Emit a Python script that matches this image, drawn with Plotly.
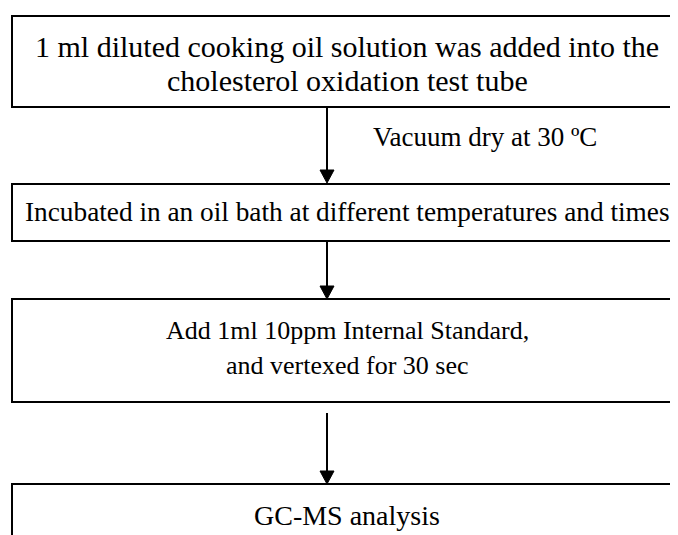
import plotly.graph_objects as go

# Flowchart content
steps = [
    "1 ml diluted cooking oil solution was added into the<br>cholesterol oxidation test tube",
    "Incubated in an oil bath at different temperatures and times",
    "Add 1ml 10ppm Internal Standard,<br>and vertexed for 30 sec",
    "GC-MS analysis",
]
arrow_notes = ["Vacuum dry at 30 ºC", "", ""]

# layout geometry (page pixels, y downward)
W, H = 678, 535
OFF = 8  # page body margin
box_left, box_right = 12, 677
box_tops = [16, 184, 299, 484]
box_bottoms = [107, 241, 402, 580]
line_y = [[46, 80], [212], [330, 365], [515]]
font_sizes = [30, 27.3, 26, 28]
text_center_x = 347
arrow_x = 327
arrow_starts = [107, 241, 413]
arrow_ends = [183, 299, 484]
note_pos = (485, 137)

fig = go.Figure()
shapes = []
annotations = []
FAMILY = "Liberation Serif, Times New Roman, serif"

for i, txt in enumerate(steps):
    shapes.append(dict(type="rect", xref="x", yref="y",
                       x0=box_left, x1=box_right, y0=box_tops[i], y1=box_bottoms[i],
                       line=dict(color="black", width=2), fillcolor="rgba(0,0,0,0)"))
    for ln, yy in zip(txt.split("<br>"), line_y[i]):
        annotations.append(dict(x=text_center_x, y=yy, xref="x", yref="y", text=ln,
                                showarrow=False,
                                font=dict(family=FAMILY, size=font_sizes[i], color="black"),
                                xanchor="center", yanchor="middle"))

hw, hh = 7, 13
for i in range(len(arrow_starts)):
    y0, y1 = arrow_starts[i], arrow_ends[i]
    shapes.append(dict(type="line", xref="x", yref="y", x0=arrow_x, x1=arrow_x,
                       y0=y0, y1=y1 - hh, line=dict(color="black", width=2)))
    shapes.append(dict(type="path", xref="x", yref="y",
                       path=f"M {arrow_x-hw},{y1-hh} L {arrow_x+hw},{y1-hh} L {arrow_x},{y1} Z",
                       fillcolor="black", line=dict(color="black", width=1)))
    if arrow_notes[i]:
        annotations.append(dict(x=note_pos[0], y=note_pos[1], xref="x", yref="y",
                                text=arrow_notes[i], showarrow=False,
                                font=dict(family=FAMILY, size=27, color="black"),
                                xanchor="center", yanchor="middle"))

fig.update_layout(
    width=W - OFF, height=H - OFF, margin=dict(l=0, r=0, t=0, b=0),
    paper_bgcolor="white", plot_bgcolor="white",
    xaxis=dict(range=[OFF, W], visible=False, fixedrange=True),
    yaxis=dict(range=[H, OFF], visible=False, fixedrange=True),
    shapes=shapes, annotations=annotations, showlegend=False,
)
fig.write_html("out.html")
